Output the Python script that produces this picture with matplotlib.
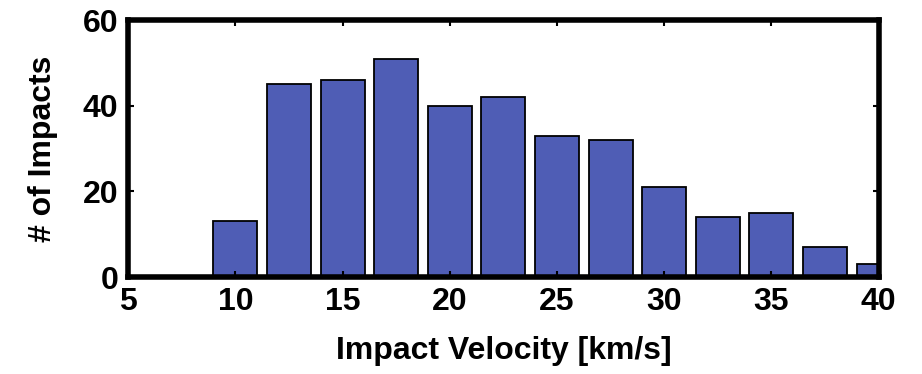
import matplotlib
matplotlib.use('Agg')
import matplotlib.pyplot as plt

# bin centres and counts
velocity = [5, 7.5, 10, 12.5, 15, 17.5, 20, 22.5, 25, 27.5, 30, 32.5, 35, 37.5, 40]
impacts = [0, 0, 13, 45, 46, 51, 40, 42, 33, 32, 21, 14, 15, 7, 3]

x_ticks = [5, 10, 15, 20, 25, 30, 35, 40]
y_ticks = [0, 20, 40, 60]

plt.rcParams['font.family'] = ['Liberation Sans', 'DejaVu Sans']
plt.rcParams['font.weight'] = 'bold'

fig = plt.figure(figsize=(9.22, 3.74), dpi=100)
ax = fig.add_axes([0.139, 0.259, 0.814, 0.687])

ax.bar(velocity, impacts, width=2.05, color='#4f5db5', edgecolor='black', linewidth=1.3)

ax.set_xlim(5, 40)
ax.set_ylim(0, 60)
ax.set_xticks(x_ticks)
ax.set_yticks(y_ticks)
ax.tick_params(direction='in', top=True, right=True, labelsize=23, length=4, width=1.5, pad=7)

for s in ax.spines.values():
    s.set_linewidth(4)

ax.set_xlabel('Impact Velocity [km/s]', fontsize=23, fontweight='bold', labelpad=14)
ax.set_ylabel('# of Impacts', fontsize=23, fontweight='bold', labelpad=18)

fig.savefig('out.png', dpi=100)
